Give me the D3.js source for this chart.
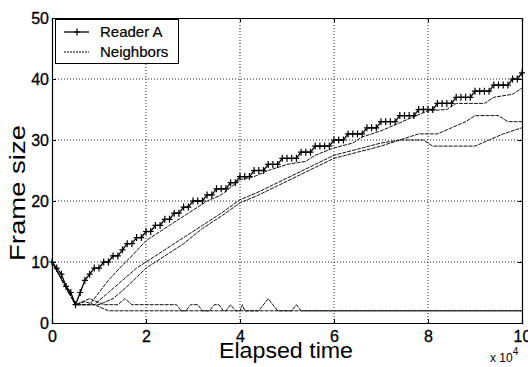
<!DOCTYPE html>
<html>
<head>
<meta charset="utf-8">
<script src="https://cdn.jsdelivr.net/npm/d3@7"></script>
<style>
  body { margin: 0; background: #fff; }
  text { font-family: "Liberation Sans", Arial, sans-serif; fill: #000; }
</style>
</head>
<body>
<div id="root"></div>
<script>
const width = 528
const height = 367
const margin = {top: 18, right: 6, bottom: 44, left: 52}

// sample times (x 10^4) for Reader A
const readerTimes = d3.range(0, 101).map(i => i / 10)
const readerA = [10, 9, 8, 6, 5, 3, 5, 7, 8, 9,
  9, 10, 10, 11, 11, 12, 13, 13, 14, 14,
  15, 15, 16, 16, 17, 17, 18, 18, 19, 19,
  20, 20, 20, 21, 21, 22, 22, 22, 23, 23,
  24, 24, 24, 25, 25, 25, 26, 26, 26, 27,
  27, 27, 27, 28, 28, 28, 29, 29, 29, 29,
  30, 30, 30, 31, 31, 31, 31, 32, 32, 32,
  33, 33, 33, 33, 34, 34, 34, 34, 35, 35,
  35, 35, 36, 36, 36, 36, 37, 37, 37, 37,
  38, 38, 38, 38, 39, 39, 39, 39, 40, 40, 41]

// neighbor frame sizes, [time, size] change points
const neighbor1 = [[0, 10], [0.5, 3], [0.8, 3], [1.0, 5], [1.2, 7], [1.5, 9.5], [1.7, 11], [2, 13.5],
  [2.3, 15], [2.5, 16], [2.8, 17.5], [3, 18.5], [3.3, 20], [3.6, 21], [4, 23.5], [4.3, 24],
  [4.6, 25], [5, 26], [5.4, 26.5], [5.6, 27.5], [6, 28.7], [6.4, 29.5], [6.6, 30.5], [7, 31.5],
  [7.3, 32.5], [7.6, 33.5], [8, 34.8], [8.4, 35], [8.6, 36], [9.2, 36], [9.4, 37], [9.8, 37.5], [10, 38.5]]
const neighbor2 = [[0, 10], [0.5, 3], [0.9, 3], [1.2, 5], [1.5, 7], [1.8, 9], [2, 10],
  [2.4, 12], [2.8, 14], [3.2, 16], [3.6, 18], [4, 20.2], [4.4, 21.5], [4.8, 23], [5.2, 24.5],
  [5.6, 26], [6, 27.5], [6.5, 28.5], [7, 29.5], [7.4, 30], [7.8, 31], [8.2, 31], [8.5, 32],
  [8.8, 33], [9, 34], [9.5, 34], [9.7, 33], [10, 33]]
const neighbor3 = [[0, 10], [0.5, 3], [1.0, 3], [1.3, 4], [1.6, 6], [2, 9], [2.4, 11],
  [2.8, 13], [3.2, 15.5], [3.6, 17.5], [4, 19.7], [4.4, 21], [4.8, 22.5], [5.2, 24],
  [5.6, 25.5], [6, 27], [6.5, 28], [7, 29], [7.4, 30], [7.9, 30], [8.1, 29], [9, 29],
  [9.3, 30], [9.6, 31], [10, 32]]
const neighbor4 = [[0, 10], [0.5, 3], [0.7, 3.5], [0.9, 3], [1.2, 2], [10, 2]]
const neighbor5 = [[0, 10], [0.5, 3], [0.8, 4], [1.1, 3], [1.4, 3], [1.55, 4], [1.7, 3],
  [2.65, 3], [2.75, 2], [2.85, 2], [2.95, 3], [3.1, 3], [3.2, 2], [3.35, 2], [3.45, 3],
  [3.55, 3], [3.65, 2], [3.7, 2], [3.8, 3], [3.9, 2], [4.0, 2], [4.05, 3], [4.1, 2],
  [4.4, 2], [4.6, 4], [4.8, 2], [5.1, 2], [5.2, 3], [5.3, 2], [10, 2]]
const neighbors = [neighbor1, neighbor2, neighbor3, neighbor4, neighbor5]

const xTicks = [0, 2, 4, 6, 8, 10]
const yTicks = [0, 10, 20, 30, 40, 50]
const legendLabels = ['Reader A', 'Neighbors']

const svg = d3.select('#root').append('svg')
  .attr('width', width)
  .attr('height', height)

const x = d3.scaleLinear().domain([0, 10]).range([margin.left, width - margin.right])
const y = d3.scaleLinear().domain([0, 50]).range([height - margin.bottom, margin.top])

// grid
svg.append('g')
  .selectAll('line.gx')
  .data(xTicks.slice(1, -1))
  .enter().append('line')
    .attr('x1', d => x(d)).attr('x2', d => x(d))
    .attr('y1', y(0)).attr('y2', y(50))
    .attr('stroke', '#222').attr('stroke-width', 1).attr('stroke-dasharray', '1,2')
svg.append('g')
  .selectAll('line.gy')
  .data(yTicks.slice(1, -1))
  .enter().append('line')
    .attr('x1', x(0)).attr('x2', x(10))
    .attr('y1', d => y(d)).attr('y2', d => y(d))
    .attr('stroke', '#222').attr('stroke-width', 1).attr('stroke-dasharray', '1,2')

// axes, ticks inward
svg.append('g')
  .attr('transform', `translate(0,${y(0)})`)
  .call(d3.axisBottom(x).tickValues(xTicks).tickSize(-4).tickPadding(8).tickFormat(d3.format('d')))
svg.append('g')
  .attr('transform', `translate(${x(0)},0)`)
  .call(d3.axisLeft(y).tickValues(yTicks).tickSize(-4).tickPadding(3).tickFormat(d3.format('d')))
svg.append('g')
  .attr('transform', `translate(0,${y(50)})`)
  .call(d3.axisTop(x).tickValues(xTicks).tickSize(-4).tickFormat(''))
svg.append('g')
  .attr('transform', `translate(${x(10)},0)`)
  .call(d3.axisRight(y).tickValues(yTicks).tickSize(-4).tickFormat(''))

svg.selectAll('.domain').attr('stroke', '#000').attr('stroke-width', 1.2)
svg.selectAll('.tick line').attr('stroke', '#000')
svg.selectAll('.tick text').style('font-size', '16px').attr('fill', '#000')
  .attr('stroke', '#000').attr('stroke-width', 0.3)

const line = d3.line()
  .x(d => x(d[0]))
  .y(d => y(d[1]))

// neighbors
svg.append('g')
  .selectAll('path')
  .data(neighbors)
  .enter().append('path')
    .attr('d', line)
    .attr('fill', 'none')
    .attr('stroke', '#111')
    .attr('stroke-width', 1)
    .attr('stroke-dasharray', '4,1')

// reader A
const readerPts = readerTimes.map((t, i) => [t, readerA[i]])
svg.append('path')
  .attr('d', line(readerPts))
  .attr('fill', 'none')
  .attr('stroke', '#000')
  .attr('stroke-width', 1.3)

svg.append('g')
  .selectAll('path')
  .data(readerPts)
  .enter().append('path')
    .attr('d', d => `M${x(d[0]) - 3},${y(d[1])}h6M${x(d[0])},${y(d[1]) - 3.5}v7`)
    .attr('stroke', '#000')
    .attr('stroke-width', 1.2)

// legend
const legend = svg.append('g')
legend.append('rect')
  .attr('x', 55.5).attr('y', 19.5)
  .attr('width', 123).attr('height', 44)
  .attr('fill', '#fff').attr('stroke', '#000').attr('stroke-width', 1)
legend.append('line')
  .attr('x1', 64).attr('x2', 89).attr('y1', 32).attr('y2', 32)
  .attr('stroke', '#000').attr('stroke-width', 1.3)
legend.append('path')
  .attr('d', 'M74,32h6M77,28.5v7')
  .attr('stroke', '#000').attr('stroke-width', 1.2)
legend.append('line')
  .attr('x1', 64).attr('x2', 89).attr('y1', 52).attr('y2', 52)
  .attr('stroke', '#000').attr('stroke-width', 1).attr('stroke-dasharray', '2,1')
legend.selectAll('text')
  .data(legendLabels)
  .enter().append('text')
    .attr('x', 100)
    .attr('y', (d, i) => 37 + i * 20)
    .style('font-size', '15px')
    .attr('stroke', '#000').attr('stroke-width', 0.2)
    .text(d => d)

// axis titles
svg.append('text')
  .attr('transform', `translate(25,193) rotate(-90)`)
  .attr('text-anchor', 'middle')
  .attr('textLength', 136).attr('lengthAdjust', 'spacingAndGlyphs')
  .style('font-size', '22px')
  .text('Frame size')
svg.append('text')
  .attr('x', 286).attr('y', 358)
  .attr('text-anchor', 'middle')
  .attr('textLength', 134).attr('lengthAdjust', 'spacingAndGlyphs')
  .style('font-size', '22px')
  .text('Elapsed time')
const mult = svg.append('text')
  .attr('x', 490).attr('y', 362)
  .style('font-size', '12px')
mult.append('tspan').text('x 10')
mult.append('tspan').attr('dy', -7).style('font-size', '10px').text('4')
</script>
</body>
</html>
